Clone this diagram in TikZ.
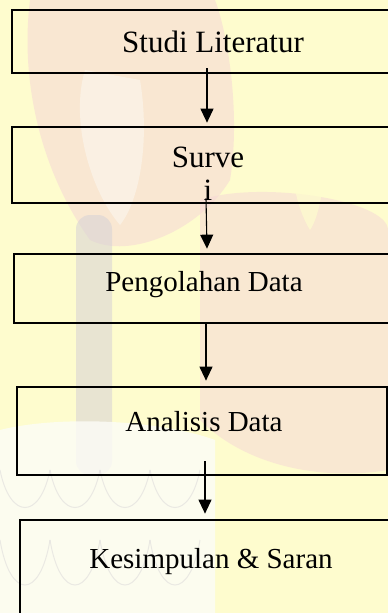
\documentclass[tikz,border=0pt]{standalone}
\usepackage{fontspec}
\setmainfont{Liberation Serif}
\usetikzlibrary{arrows.meta}
\definecolor{bgyellow}{RGB}{254,252,206}
\definecolor{bgpink}{RGB}{246,214,214}
\definecolor{bggrey}{RGB}{214,210,214}
\definecolor{bgwhite}{RGB}{252,252,248}
\tikzset{
  stepbox/.style={draw=black, line width=2.7pt, rectangle, inner sep=0pt},
  bigtxt/.style={font=\fontsize{31}{34}\selectfont, inner sep=0pt, align=center},
  midtxt/.style={font=\fontsize{29}{32}\selectfont, inner sep=0pt},
  flow/.style={draw=black, line width=1.1pt, -{Triangle[length=14pt,width=13pt]}}
}
\begin{document}
\begin{tikzpicture}[x=1pt, y=-1pt]
  % page and pale background
  \fill[bgyellow] (0,0) rectangle (388,613);
  \useasboundingbox (0,0) rectangle (388,613);
  \begin{scope}
    \clip (0,0) rectangle (388,613);
    % faint emblem behind the chart
    \fill[bgpink, opacity=0.55] (30,0) .. controls (20,80) and (40,170) .. (90,240)
      .. controls (130,260) and (200,230) .. (230,180)
      .. controls (240,120) and (230,40) .. (215,0) -- cycle;
    \fill[bgwhite, opacity=0.45] (85,70) .. controls (70,120) and (90,190) .. (120,225)
      .. controls (140,200) and (150,140) .. (140,80) -- cycle;
    \fill[bgpink, opacity=0.5] (200,200) .. controls (260,180) and (388,200) .. (388,230)
      -- (388,470) .. controls (330,480) and (250,470) .. (200,420) -- cycle;
    \fill[bgyellow, opacity=0.7] (330,60) .. controls (290,100) and (280,180) .. (310,230)
      .. controls (330,200) and (320,120) .. (360,60) -- cycle;
    \fill[bggrey, opacity=0.55, rounded corners=14pt] (76,215) rectangle (112,475);
    \fill[bgwhite, opacity=0.8] (0,430) .. controls (60,415) and (160,420) .. (215,440)
      -- (215,613) -- (0,613) -- cycle;
    \foreach \sx in {0,50,100,150} {
      \draw[bggrey, line width=1pt, opacity=0.45] (\sx,470) .. controls (\sx+10,520) and (\sx+40,520) .. (\sx+50,470);
      \draw[bggrey, line width=1pt, opacity=0.45] (\sx,540) .. controls (\sx+10,600) and (\sx+40,600) .. (\sx+50,540);
    }
  \end{scope}

  % process steps
  \node[stepbox, minimum width=402pt, minimum height=63pt] (b1) at (213,41.5) {};
  \node[bigtxt] (t1) at (213,42) {Studi Literatur};

  \node[stepbox, minimum width=392pt, minimum height=76pt] (b2) at (208,165) {};
  \node[bigtxt] (t2) at (208,174) {Surve\\[-1pt]i};

  \node[stepbox, minimum width=380pt, minimum height=69pt] (b3) at (204,288.5) {};
  \node[midtxt] (t3) at (204,285) {Pengolahan Data};

  \node[stepbox, minimum width=370pt, minimum height=88pt] (b4) at (202,431) {};
  \node[midtxt] (t4) at (204,422) {Analisis Data};

  \node[stepbox, minimum width=382pt, minimum height=130pt] (b5) at (211,585) {};
  \node[midtxt] (t5) at (211,562) {Kesimpulan \& Saran};

  % connectors
  \draw[flow] ([xshift=-6pt,yshift=6pt]b1.south) -- ([xshift=-1pt,yshift=3pt]b2.north);
  \draw[flow] ([xshift=-2pt,yshift=6pt]b2.south) -- ([xshift=3pt,yshift=4pt]b3.north);
  \draw[flow] ([xshift=2pt]b3.south) -- ([xshift=4pt,yshift=5pt]b4.north);
  \draw[flow] ([xshift=3pt,yshift=15pt]b4.south) -- ([xshift=-6pt,yshift=5pt]b5.north);
\end{tikzpicture}
\end{document}
